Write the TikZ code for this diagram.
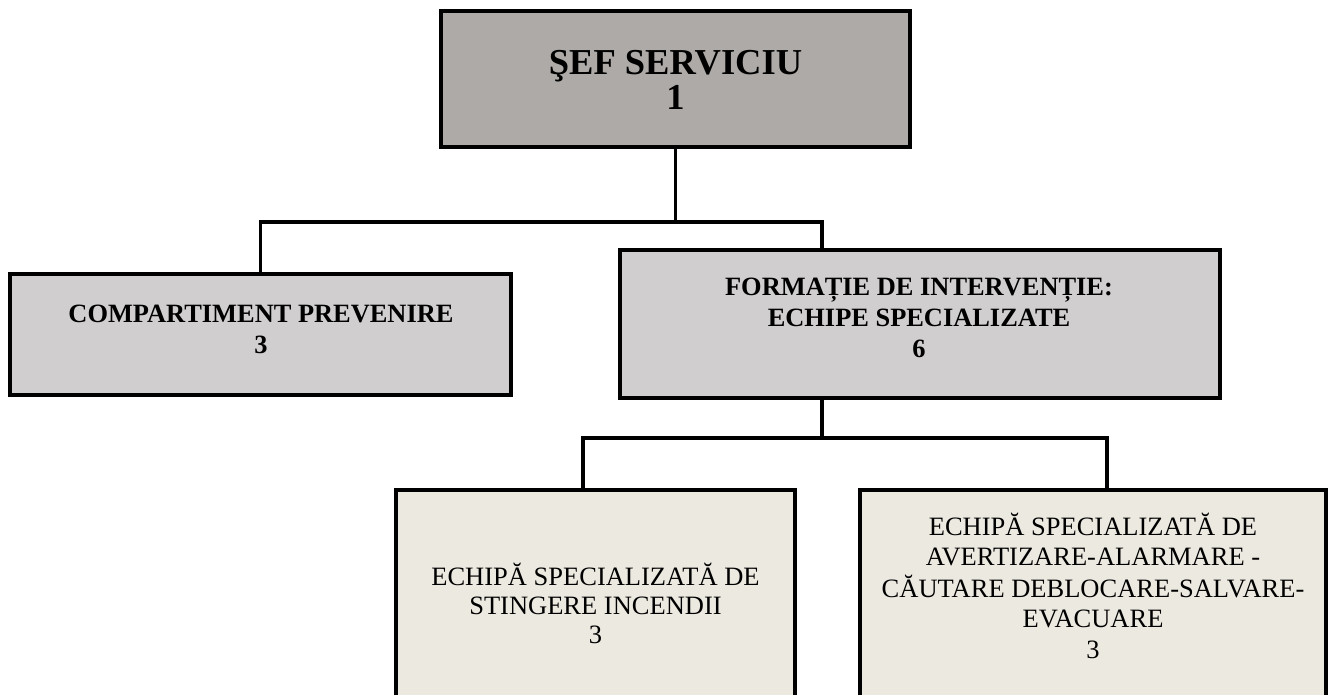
\documentclass[tikz,border=0pt]{standalone}
\usepackage{fontspec}
\setmainfont{Liberation Serif}
\definecolor{topfill}{RGB}{174,170,168}
\definecolor{midfill}{RGB}{208,206,206}
\definecolor{lowfill}{RGB}{236,233,224}
\tikzset{
  box/.style={draw=black, line width=4pt, inner sep=0pt, outer sep=0pt, rectangle},
  link/.style={draw=black, line width=3.2pt, line join=miter},
  lbl/.style={inner sep=0pt, outer sep=0pt, anchor=base},
}
\begin{document}
\begin{tikzpicture}[x=1pt,y=-1pt]
\useasboundingbox (0,0) rectangle (1329,695);
\clip (0,0) rectangle (1329,695);
% boxes
\node[box, fill=topfill, minimum width=469pt, minimum height=136pt] (sef) at (675.5,79) {};
\node[box, fill=midfill, minimum width=501pt, minimum height=121pt] (comp) at (260.5,334.5) {};
\node[box, fill=midfill, minimum width=600pt, minimum height=148pt] (form) at (920,324) {};
\node[box, fill=lowfill, minimum width=399pt, minimum height=240pt] (stin) at (595.5,610) {};
\node[box, fill=lowfill, minimum width=466pt, minimum height=240pt] (aver) at (1093,610) {};
% junctions
\coordinate (h1) at (822,222);
\coordinate (h2) at (822,438);
\coordinate (h2l) at (583,438);
\coordinate (h2r) at (1107,438);
% connectors
\draw[link] (sef.south) -- (sef.south |- h1);
\draw[link] (comp.north) |- (h1) -- (h1 |- form.north);
\draw[link] (h2 |- form.south) -- (h2);
\draw[link] (h2l |- stin.north) -- (h2l) -- (h2r) -- (h2r |- aver.north);
% texts
\node[lbl, font=\fontsize{36.5}{34}\selectfont\bfseries] (sefT) at (675.5,75)
  {\begin{tabular}[t]{@{}c@{}}ŞEF SERVICIU\\1\end{tabular}};
\node[lbl, font=\fontsize{26.4}{31}\selectfont\bfseries] (compT) at (261,322)
  {\begin{tabular}[t]{@{}c@{}}COMPARTIMENT PREVENIRE\\3\end{tabular}};
\node[lbl, font=\fontsize{26.4}{31}\selectfont\bfseries] (formT) at (919,295)
  {\begin{tabular}[t]{@{}c@{}}FORMAȚIE DE INTERVENȚIE:\\ECHIPE SPECIALIZATE\\6\end{tabular}};
\node[lbl, font=\fontsize{26.5}{29}\selectfont] (stinT) at (595.5,585)
  {\begin{tabular}[t]{@{}c@{}}ECHIPĂ SPECIALIZATĂ DE\\STINGERE INCENDII\\3\end{tabular}};
\node[lbl, font=\fontsize{26.5}{30.5}\selectfont] (averT) at (1093,535)
  {\begin{tabular}[t]{@{}c@{}}ECHIPĂ SPECIALIZATĂ DE\\AVERTIZARE-ALARMARE -\\CĂUTARE DEBLOCARE-SALVARE-\\EVACUARE\\3\end{tabular}};
\end{tikzpicture}
\end{document}
